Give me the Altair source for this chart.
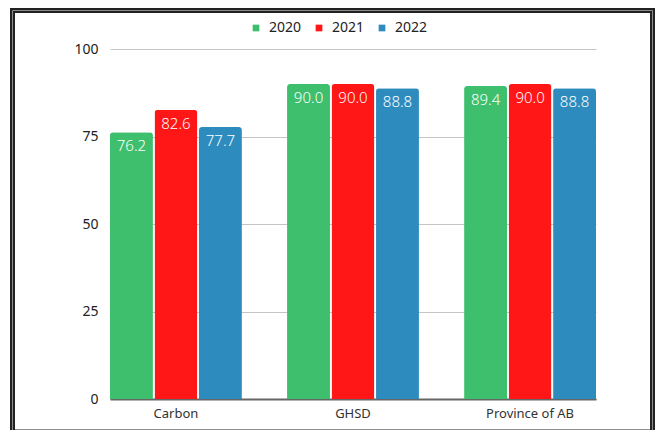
import altair as alt
import pandas as pd

categories = ["Carbon", "GHSD", "Province of AB"]
years = ["2020", "2021", "2022"]
values_2020 = [76.2, 90.0, 89.4]
values_2021 = [82.6, 90.0, 90.0]
values_2022 = [77.7, 88.8, 88.8]
colors = ["#3dbf6d", "#ff1616", "#2e8bbd"]
y_ticks = [0, 25, 50, 75, 100]

rows = []
for yr, vals in zip(years, [values_2020, values_2021, values_2022]):
    for c, v in zip(categories, vals):
        rows.append({"category": c, "year": yr, "value": v})
df = pd.DataFrame(rows)

FONT = "Noto Sans"

x = alt.X("category:N", sort=categories, title=None,
          scale=alt.Scale(paddingInner=0.255, paddingOuter=0),
          axis=alt.Axis(labelAngle=0, ticks=False, domainColor="#666666",
                        domainWidth=2, labelFontSize=13, labelColor="#333333",
                        labelPadding=8, labelFont=FONT))
y = alt.Y("value:Q", title=None,
          scale=alt.Scale(domain=[0, 100], nice=False),
          axis=alt.Axis(values=y_ticks, ticks=False, domain=False,
                        gridColor="#c4c4c4", gridWidth=1, labelFontSize=14,
                        labelColor="#222222", labelPadding=12, labelFont=FONT))
xo = alt.XOffset("year:N", sort=years, scale=alt.Scale(paddingInner=0.035))
color = alt.Color("year:N", sort=years,
                  scale=alt.Scale(domain=years, range=colors),
                  legend=alt.Legend(title=None, orient="none", direction="horizontal",
                                    legendX=139, legendY=-28, symbolType="square",
                                    symbolSize=45, labelFontSize=14, labelFont=FONT,
                                    labelColor="#222222", labelOffset=6,
                                    columnPadding=10, symbolStrokeWidth=0))

base = alt.Chart(df)
bars = base.mark_bar(cornerRadiusTopLeft=3, cornerRadiusTopRight=3).encode(
    x=x, y=y, xOffset=xo, color=color)
labels = base.mark_text(color="white", fontSize=15, baseline="top", dy=7,
                        font=FONT, fontWeight=300).encode(
    x=x, y=y, xOffset=xo, text=alt.Text("value:Q", format=".1f"))

frame_data = alt.Data(values=[{"f": 1}])
frame_dark = alt.Chart(frame_data).mark_rect(
    fill=None, stroke="#222222", strokeWidth=5, clip=False).encode(
    x=alt.value(-97.5), x2=alt.value(542.5), y=alt.value(-38.5), y2=alt.value(383))
frame_gray = alt.Chart(frame_data).mark_rect(
    fill=None, stroke="#8a8a8a", strokeWidth=1, clip=False).encode(
    x=alt.value(-97.5), x2=alt.value(542.5), y=alt.value(-38.5), y2=alt.value(383))

chart = alt.layer(bars, labels, frame_dark, frame_gray).properties(
    width=486, height=350,
    autosize=alt.AutoSizeParams(type="none"),
    padding={"left": 102, "top": 41, "right": 59, "bottom": 31},
).configure_view(stroke=None)

chart.save("out.html", embed_options={"renderer": "svg", "actions": False})
